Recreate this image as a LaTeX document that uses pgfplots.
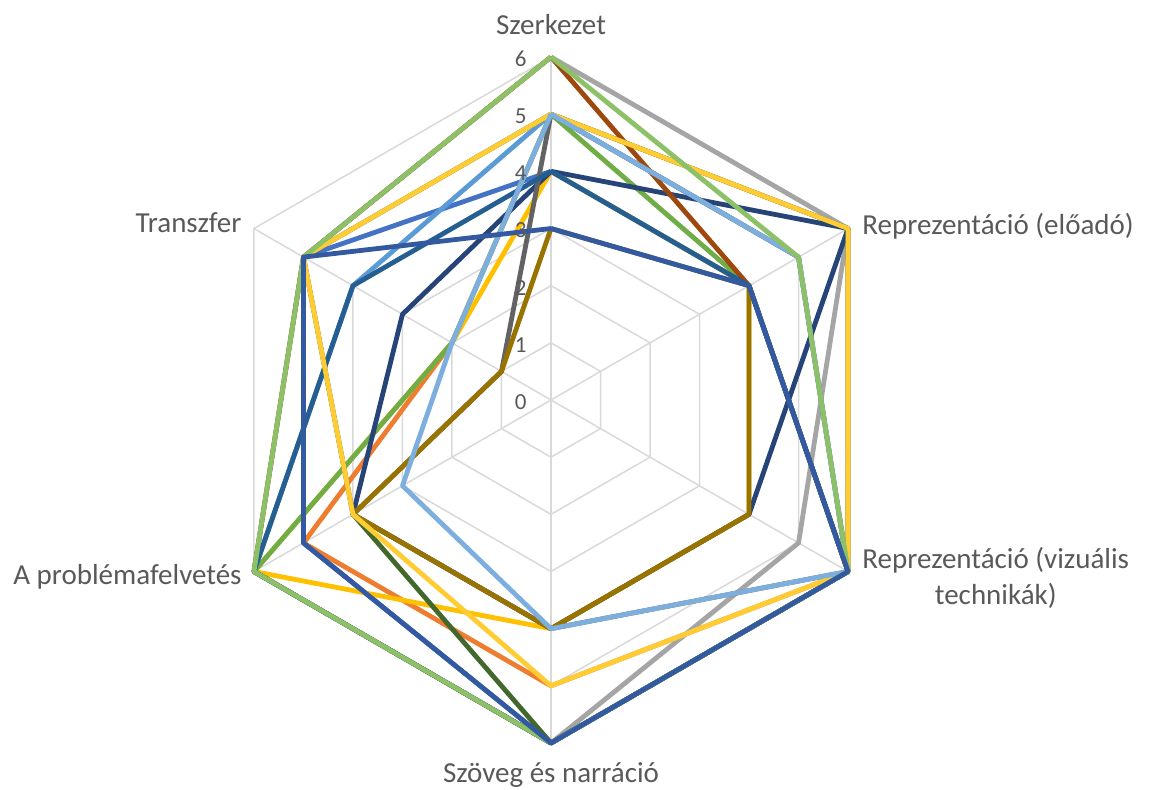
\documentclass[border=0pt]{standalone}
\usepackage{pgfplots}
\pgfplotsset{compat=1.18}
\usepackage{pgfplotstable}
\usepgfplotslibrary{polar}
\usepackage{fontspec}
\setmainfont{Carlito}

\definecolor{txt}{HTML}{595959}
\definecolor{gridc}{HTML}{D9D9D9}
\definecolor{c01}{HTML}{4472C4}
\definecolor{c02}{HTML}{ED7D31}
\definecolor{c03}{HTML}{A5A5A5}
\definecolor{c04}{HTML}{FFC000}
\definecolor{c05}{HTML}{5B9BD5}
\definecolor{c06}{HTML}{70AD47}
\definecolor{c07}{HTML}{264478}
\definecolor{c08}{HTML}{9E480E}
\definecolor{c09}{HTML}{636363}
\definecolor{c10}{HTML}{997300}
\definecolor{c11}{HTML}{255E91}
\definecolor{c12}{HTML}{43682B}
\definecolor{c16}{HTML}{FFCD33}
\definecolor{c17}{HTML}{7CAFDD}
\definecolor{c18}{HTML}{8CC168}
\definecolor{c19}{HTML}{335AA1}

% angle: Szerkezet 90, Reprezentáció (előadó) 30, Reprezentáció (vizuális technikák) -30,
% Szöveg és narráció -90, A problémafelvetés -150, Transzfer 150 (first row repeated to close)
\pgfplotstableread{
ang  s01 s02 s03 s04 s05 s06 s07 s08 s09 s10 s11 s12 s16 s17 s18 s19
90   4   5   6   4   5   5   4   6   5   3   4   5   5   5   6   3
30   4   6   6   4   5   4   6   4   5   4   4   6   6   5   5   4
-30  6   6   5   4   6   6   4   6   6   4   6   6   6   6   6   6
-90  6   5   6   4   6   6   4   6   4   4   6   6   5   4   6   6
-150 5   5   6   6   6   6   4   6   4   4   6   4   4   3   6   5
150  5   2   5   2   4   2   3   5   1   1   4   5   5   2   5   5
90   4   5   6   4   5   5   4   6   5   3   4   5   5   5   6   3
}\radar

\begin{document}
\begin{tikzpicture}
\path[use as bounding box] (-275.5pt,-194.5pt) rectangle (299pt,200pt);
\begin{polaraxis}[
  at={(0,0)}, anchor=center,
  width=343pt, height=343pt, scale only axis,
  xmin=0, xmax=360, ymin=0, ymax=6,
  hide axis, clip=false,
  every axis plot/.append style={no markers, line join=round},
]
% hexagonal grid
\pgfplotsinvokeforeach{1,2,3,4,5,6}{
  \addplot[gridc, line width=0.75pt] coordinates {(90,#1) (30,#1) (-30,#1) (-90,#1) (-150,#1) (150,#1) (90,#1)};
}
\pgfplotsinvokeforeach{90,30,-30,-90,-150,150}{
  \addplot[gridc, line width=0.75pt] coordinates {(#1,0) (#1,6)};
}
% series
\pgfplotsinvokeforeach{01,02,03,04,05,06,07,08,09,10,11,12,16,17,18,19}{
  \addplot[c#1, line width=2.4pt] table[x=ang, y=s#1] {\radar};
}
% value labels
\pgfplotsinvokeforeach{0,1,2,3,4,5,6}{
  \node[anchor=east, inner sep=0pt, xshift=-12pt, yshift=-1pt, text=txt, font=\fontsize{11.5}{13}\selectfont] at (axis cs:90,#1) {#1};
}
% category labels
\begin{scope}[every node/.style={text=txt, font=\fontsize{14.5}{18}\selectfont, inner sep=0pt}]
\node[anchor=center, yshift=16pt] at (axis cs:90,6) {Szerkezet};
\node[anchor=west, xshift=7pt, yshift=1pt] at (axis cs:30,6) {Reprezentáció (előadó)};
\node[anchor=west, xshift=7pt, yshift=-3pt, align=center] at (axis cs:-30,6) {Reprezentáció (vizuális\\technikák)};
\node[anchor=center, yshift=-16pt] at (axis cs:-90,6) {Szöveg és narráció};
\node[anchor=east, xshift=-6pt, yshift=-2.5pt] at (axis cs:-150,6) {A problémafelvetés};
\node[anchor=east, xshift=-6pt, yshift=3pt] at (axis cs:150,6) {Transzfer};
\end{scope}
\end{polaraxis}
\end{tikzpicture}
\end{document}
